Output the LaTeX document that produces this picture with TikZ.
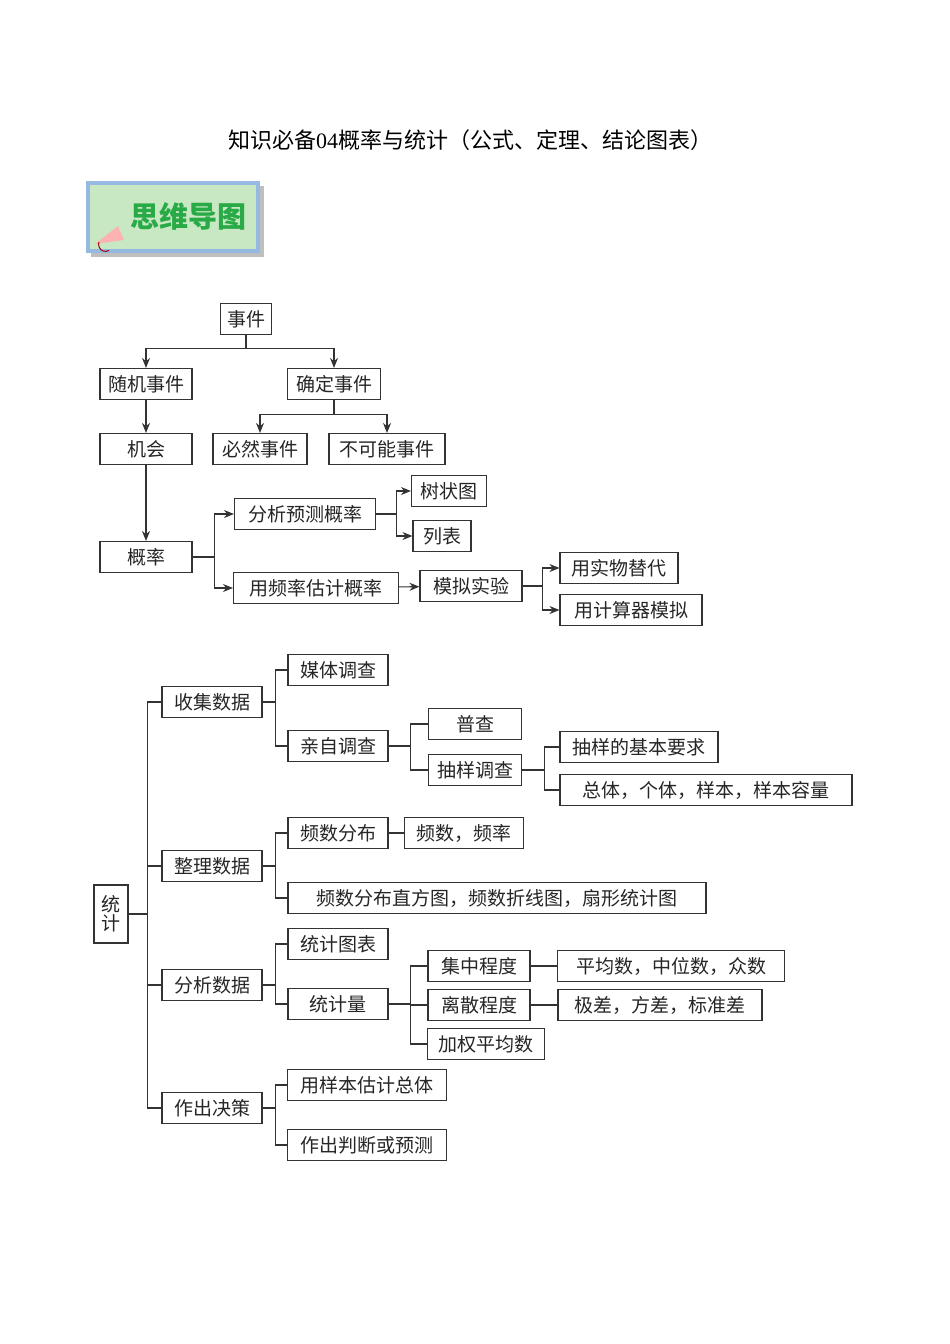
\documentclass[tikz,border=0pt]{standalone}
\usepackage{fontspec}
\setmainfont{Liberation Serif}
\newfontfamily\cjk{Noto Sans CJK SC}
\usetikzlibrary{positioning, arrows.meta}
\definecolor{BannerGreen}{RGB}{200, 232, 196}
\definecolor{BannerBlue}{RGB}{150, 185, 225}
\definecolor{BannerText}{RGB}{40, 170, 70}

\tikzset{
  box/.style={draw=black!80, line width=1.1pt, minimum height=31pt, inner sep=0pt,
              font=\cjk\fontsize{19}{19}\selectfont, text=black!85},
  link/.style={draw=black!80, line width=1.1pt},
  arr/.style={link, -{Stealth[length=10pt, width=8pt]}}
}

\begin{document}
\begin{tikzpicture}[x=1pt, y=-1pt]
  % page frame
  \useasboundingbox (0,0) rectangle (950,1344);
  \fill[white] (0,0) rectangle (950,1344);

  % title
  \node[font=\cjk\fontsize{22}{22}\selectfont] (title) at (470,140)
       {知识必备{\rmfamily 04}概率与统计（公式、定理、结论图表）};

  % banner
  \fill[black!25] (91,186) rectangle (264,257);
  \node[fill=BannerGreen, draw=BannerBlue, line width=4pt, minimum width=170pt,
        minimum height=68pt] (banner) at (173,217) {};
  \node[font=\cjk\bfseries\fontsize{29}{29}\selectfont, text=BannerText] (bantext)
       at (188,216) {思维导图};
  \fill[red!30] (95,244) -- (118,226) -- (124,240) -- cycle;
  \draw[red!60!black, line width=1pt] (99,242) arc (200:60:7);

  % probability tree
  \node[box, minimum width=51]  (shijian) at (246,319) {事件};
  \node[box, minimum width=92]  (suiji)   at (146,384) {随机事件};
  \node[box, minimum width=93]  (queding) at (334,384) {确定事件};
  \node[box, minimum width=92]  (jihui)   at (146,449) {机会};
  \node[box, minimum width=94]  (biran)   at (260,449) {必然事件};
  \node[box, minimum width=116] (bukeneng) at (387,449) {不可能事件};
  \node[box, minimum width=92]  (gailv)   at (146,557) {概率};
  \node[box, minimum width=141] (fenxi)   at (305,514) {分析预测概率};
  \node[box, minimum width=75]  (shuzhuang) at (449,491) {树状图};
  \node[box, minimum width=58]  (liebiao) at (442,536) {列表};
  \node[box, minimum width=165] (pinlv)   at (316,588) {用频率估计概率};
  \node[box, minimum width=102] (moni)    at (471,586) {模拟实验};
  \node[box, minimum width=118] (shiwu)   at (619,568) {用实物替代};
  \node[box, minimum width=142] (jisuanqi) at (631,610) {用计算器模拟};

  \draw[arr] (shijian.south) -- ++(0,13) -| (suiji.north);
  \draw[arr] (shijian.south) -- ++(0,13) -| (queding.north);
  \draw[arr] (suiji) -- (jihui);
  \draw[arr] (queding.south) -- ++(0,14) -| (biran.north);
  \draw[arr] (queding.south) -- ++(0,14) -| (bukeneng.north);
  \draw[arr] (jihui) -- (gailv);
  \draw[arr] (gailv.east) -- ++(22,0) |- (fenxi.west);
  \draw[arr] (gailv.east) -- ++(22,0) |- (pinlv.west);
  \draw[arr] (fenxi.east) -- ++(20,0) |- (shuzhuang.west);
  \draw[arr] (fenxi.east) -- ++(20,0) |- (liebiao.west);
  \draw[arr] (pinlv) -- (moni);
  \draw[arr] (moni.east) -- ++(20,0) |- (shiwu.west);
  \draw[arr] (moni.east) -- ++(20,0) |- (jisuanqi.west);

  % statistics tree
  \node[box, minimum width=34, minimum height=58, align=center] (tongji) at (111,914) {统\\计};
  \node[box, minimum width=100] (shouji)  at (212,702)  {收集数据};
  \node[box, minimum width=100] (zhengli) at (212,866)  {整理数据};
  \node[box, minimum width=100] (fenxisj) at (212,985)  {分析数据};
  \node[box, minimum width=100] (juece)   at (212,1108) {作出决策};

  \node[box, minimum width=100] (meiti)   at (338,670) {媒体调查};
  \node[box, minimum width=100] (qinzi)   at (338,746) {亲自调查};
  \node[box, minimum width=93]  (pucha)   at (475,724) {普查};
  \node[box, minimum width=93]  (chouyang) at (475,770) {抽样调查};
  \node[box, minimum width=158] (yaoqiu)  at (639,747) {抽样的基本要求};
  \node[box, minimum width=292] (zongti)  at (706,790) {总体，个体，样本，样本容量};

  \node[box, minimum width=100] (pinshu)  at (338,833) {频数分布};
  \node[box, minimum width=119] (pinshulv) at (464,833) {频数，频率};
  \node[box, minimum width=418] (zhifang) at (497,898) {频数分布直方图，频数折线图，扇形统计图};

  \node[box, minimum width=100] (tubiao)  at (338,944)  {统计图表};
  \node[box, minimum width=100] (tongjiliang) at (338,1004) {统计量};
  \node[box, minimum width=102] (jizhong) at (479,966)  {集中程度};
  \node[box, minimum width=102] (lisan)   at (479,1005) {离散程度};
  \node[box, minimum width=117] (jiaquan) at (486,1044) {加权平均数};
  \node[box, minimum width=227] (pingjun) at (671,966)  {平均数，中位数，众数};
  \node[box, minimum width=204] (jicha)   at (660,1005) {极差，方差，标准差};

  \node[box, minimum width=159] (guji)    at (367,1085) {用样本估计总体};
  \node[box, minimum width=159] (panduan) at (367,1145) {作出判断或预测};

  \foreach \n in {shouji, zhengli, fenxisj, juece}
    \draw[link] (tongji.east) -- ++(19,0) |- (\n.west);
  \foreach \a/\b in {shouji/meiti, shouji/qinzi, zhengli/pinshu, zhengli/zhifang,
                     fenxisj/tubiao, fenxisj/tongjiliang, juece/guji, juece/panduan}
    \draw[link] (\a.east) -- ++(13,0) |- (\b.west);
  \foreach \a/\b in {qinzi/pucha, qinzi/chouyang,
                     tongjiliang/jizhong, tongjiliang/lisan, tongjiliang/jiaquan}
    \draw[link] (\a.east) -- ++(22,0) |- (\b.west);
  \foreach \b in {yaoqiu, zongti}
    \draw[link] (chouyang.east) -- ++(22,0) |- (\b.west);
  \draw[link] (pinshu) -- (pinshulv);
  \draw[link] (jizhong) -- (pingjun);
  \draw[link] (lisan) -- (jicha);
\end{tikzpicture}
\end{document}
